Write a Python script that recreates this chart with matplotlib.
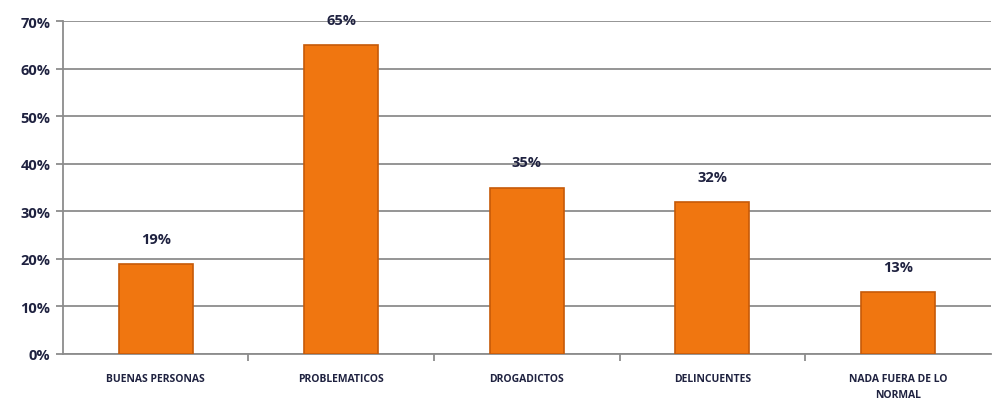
import matplotlib.pyplot as plt

# datos
categorias = ['BUENAS PERSONAS', 'PROBLEMATICOS', 'DROGADICTOS', 'DELINCUENTES', 'NADA FUERA DE LO\nNORMAL']
valores = [19, 65, 35, 32, 13]
etiquetas = ['19%', '65%', '35%', '32%', '13%']

plt.rcParams['font.family'] = ['Open Sans', 'DejaVu Sans']

fig = plt.figure(figsize=(9.92, 4.02), dpi=100)
ax = fig.add_axes([0.0635, 0.117, 0.935, 0.828])

x = range(len(categorias))
ax.bar(x, valores, width=0.4, color='#F07610', edgecolor='#C65A08', linewidth=1.2, zorder=3)

# etiquetas de valor
for i, v in enumerate(valores):
    ax.text(i, v + 3.8, etiquetas[i], ha='center', va='bottom', fontsize=10.5,
            fontweight='bold', color='#1F2240')

ax.set_xlim(-0.5, len(categorias) - 0.5)
ax.set_ylim(0, 70)
ax.set_yticks(range(0, 71, 10))
ax.set_yticklabels([f'{t}%' for t in range(0, 71, 10)], fontsize=10.5, fontweight='bold', color='#1F2240')
ax.yaxis.grid(True, color='#8C8C8C', linewidth=1.3, zorder=0)

# ticks del eje x entre categorias
ax.set_xticks([i + 0.5 for i in range(len(categorias) - 1)], minor=False)
ax.set_xticklabels([])
ax.set_xticks(list(x), minor=True)
ax.set_xticklabels(categorias, minor=True, fontsize=7.5, fontweight='bold', color='#1F2240',
                   linespacing=1.6, va='top')
ax.tick_params(axis='x', which='minor', length=0, pad=14)
ax.tick_params(axis='x', which='major', length=5, color='#8C8C8C', width=1.3)
ax.tick_params(axis='y', length=5, color='#8C8C8C', width=1.3, pad=4)

for s in ['top', 'right']:
    ax.spines[s].set_visible(False)
ax.spines['left'].set_color('#8C8C8C')
ax.spines['left'].set_linewidth(1.3)
ax.spines['bottom'].set_color('#8C8C8C')
ax.spines['bottom'].set_linewidth(1.3)

fig.savefig('out.png', dpi=100)
